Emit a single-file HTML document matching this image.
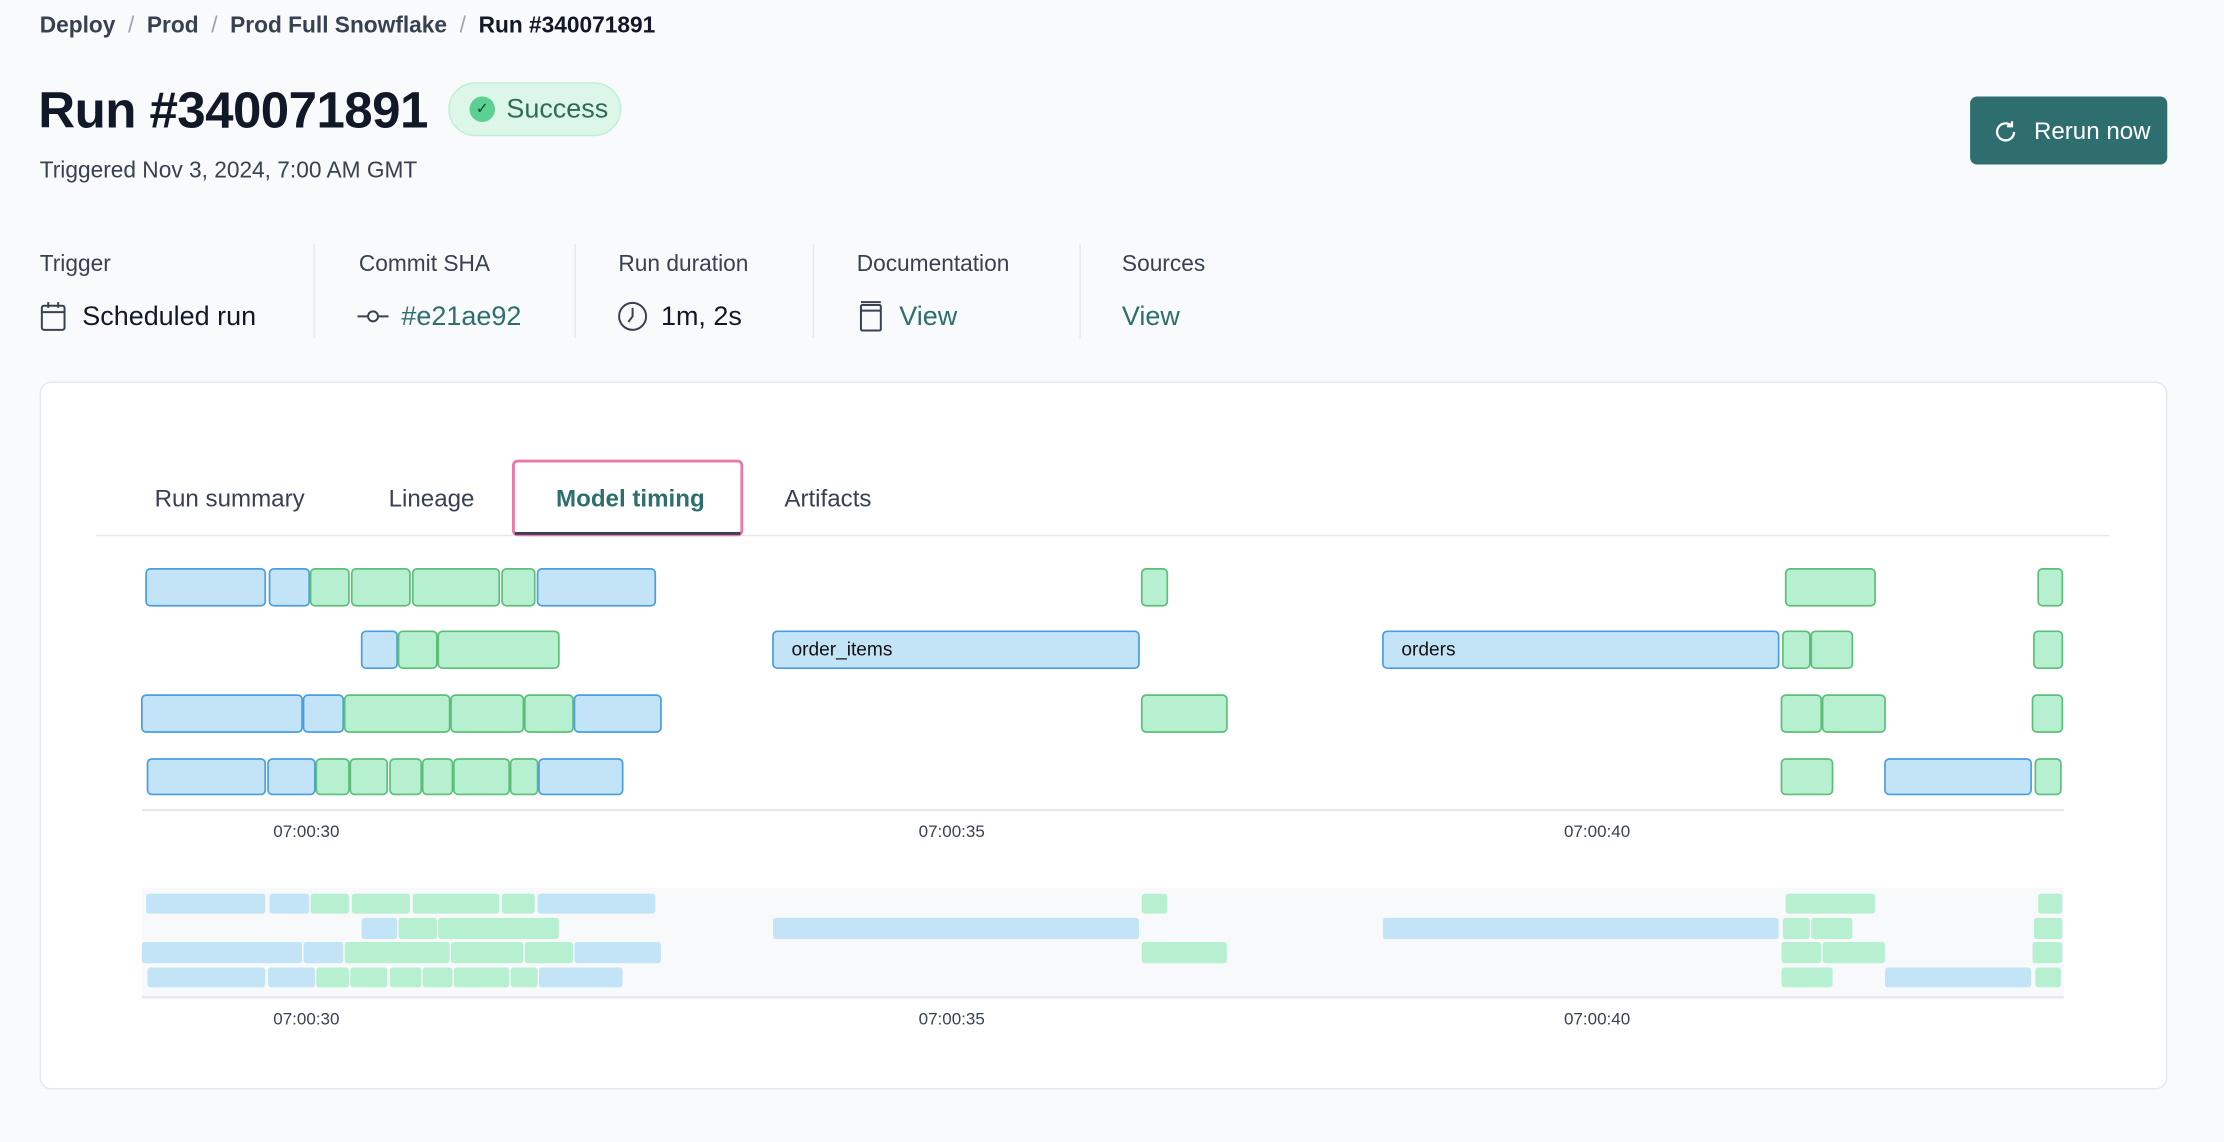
<!DOCTYPE html>
<html><head><meta charset="utf-8"><style>
html,body{margin:0;padding:0;background:#f9fafb;width:2224px;height:1142px;overflow:hidden}
#w{position:absolute;left:0;top:0;width:1568px;height:805px;transform:scale(1.41837,1.41863);transform-origin:0 0;font-family:"Liberation Sans",sans-serif;color:#1f2937}
.a{position:absolute;white-space:nowrap}
.bc{top:10px;font-size:16px;font-weight:bold;color:#374151}
.sep{color:#9ca3af;font-weight:normal}
.lbl{top:178px;font-size:16px;color:#374151}
.val{top:213px;font-size:19px;color:#111827}
.link{color:#2e6e6e}
.vl{position:absolute;top:172px;width:1px;height:66px;background:#e5e7eb}
.tab{top:342px;font-size:17px;color:#374151}
</style></head><body><div id="w">
<div class="a bc" style="left:28px">Deploy <span class="sep">&nbsp;/&nbsp;</span> Prod <span class="sep">&nbsp;/&nbsp;</span> Prod Full Snowflake <span class="sep">&nbsp;/&nbsp;</span> <span style="color:#111827">Run #340071891</span></div>
<div class="a" style="left:27px;top:57px;font-size:36px;font-weight:bold;color:#111827;letter-spacing:-0.4px">Run #340071891</div>
<div class="a" style="left:316px;top:58px;width:122px;height:38px;box-sizing:border-box;border:1px solid #bdf0d2;border-radius:19px;background:#dcf7e8"></div>
<div class="a" style="left:331px;top:68px;width:18px;height:18px;border-radius:9px;background:#5ccf93;color:#064e3b;font-size:11px;text-align:center;line-height:18px">✓</div>
<div class="a" style="left:357px;top:67px;font-size:19px;color:#2f6b55">Success</div>
<div class="a" style="left:28px;top:112px;font-size:16px;color:#374151">Triggered Nov 3, 2024, 7:00 AM GMT</div>
<div class="a" style="left:1389px;top:68px;width:139px;height:48px;border-radius:5px;background:#2e6e6e"></div>
<svg class="a" style="left:1404px;top:83px" width="20" height="20" viewBox="0 0 20 20"><path d="M16 10a6 6 0 1 1-2-4.5" fill="none" stroke="#fff" stroke-width="1.6"/><path d="M14.5 2.5v3.5h-3.5" fill="none" stroke="#fff" stroke-width="1.6"/></svg>
<div class="a" style="left:1434px;top:83px;font-size:17px;color:#fff">Rerun now</div>

<div class="a lbl" style="left:28px">Trigger</div>
<div class="a lbl" style="left:253px">Commit SHA</div>
<div class="a lbl" style="left:436px">Run duration</div>
<div class="a lbl" style="left:604px">Documentation</div>
<div class="a lbl" style="left:791px">Sources</div>
<div class="vl" style="left:221px"></div><div class="vl" style="left:405px"></div><div class="vl" style="left:573px"></div><div class="vl" style="left:761px"></div>
<svg class="a" style="left:28px;top:212px" width="20" height="22"><rect x="1.5" y="3.5" width="16" height="17" rx="1.5" fill="none" stroke="#374151" stroke-width="1.4"/><line x1="1.5" y1="8" x2="17.5" y2="8" stroke="#374151" stroke-width="1.4"/><line x1="6" y1="1" x2="6" y2="5" stroke="#374151" stroke-width="1.4"/><line x1="13" y1="1" x2="13" y2="5" stroke="#374151" stroke-width="1.4"/></svg>
<div class="a val" style="left:58px">Scheduled run</div>
<svg class="a" style="left:252px;top:216px" width="22" height="14"><line x1="0" y1="7" x2="22" y2="7" stroke="#374151" stroke-width="1.4"/><circle cx="11" cy="7" r="3.5" fill="#f9fafb" stroke="#374151" stroke-width="1.4"/></svg>
<div class="a val link" style="left:283px">#e21ae92</div>
<svg class="a" style="left:435px;top:212px" width="22" height="22"><circle cx="11" cy="11" r="9.5" fill="none" stroke="#374151" stroke-width="1.4"/><path d="M11 5v6l-3 4" fill="none" stroke="#374151" stroke-width="1.4"/></svg>
<div class="a val" style="left:466px">1m, 2s</div>
<svg class="a" style="left:606px;top:212px" width="16" height="22"><rect x="1" y="3" width="14" height="18" rx="1" fill="none" stroke="#374151" stroke-width="1.4"/><line x1="1" y1="1" x2="15" y2="1" stroke="#374151" stroke-width="1.4"/><line x1="1" y1="7" x2="15" y2="7" stroke="#374151" stroke-width="1.4"/></svg>
<div class="a val link" style="left:634px">View</div>
<div class="a val link" style="left:791px">View</div>

<div class="a" style="left:28px;top:269px;width:1500px;height:499px;box-sizing:border-box;border:1px solid #e5e7eb;border-radius:8px;background:#fff"></div>
<div class="a" style="left:68px;top:377px;width:1419px;height:1px;background:#e5e7eb"></div>
<div class="a tab" style="left:109px">Run summary</div>
<div class="a tab" style="left:274px">Lineage</div>
<div class="a tab" style="left:553px">Artifacts</div>
<div class="a" style="left:361px;top:324px;width:163px;height:54px;box-sizing:border-box;border:2px solid #e879a8;border-radius:4px"></div>
<div class="a" style="left:363px;top:375px;width:159px;height:2px;background:#374151"></div>
<div class="a tab" style="left:392px;font-weight:bold;color:#2e6e6e">Model timing</div>

<svg class="a" style="left:0;top:0" width="1568" height="805">
<style>.b{fill:#c3e4f7;stroke:#4a9de0;stroke-width:1.2}.g{fill:#b7f0d1;stroke:#5cbf78;stroke-width:1.2}.mb{fill:#c3e4f7}.mg{fill:#b7f0d1}text{font-family:"Liberation Sans",sans-serif}</style>
<g>
<rect class="b" x="103" y="401" width="84" height="26" rx="3"/><rect class="b" x="190" y="401" width="28" height="26" rx="3"/><rect class="g" x="219" y="401" width="27" height="26" rx="3"/><rect class="g" x="248" y="401" width="41" height="26" rx="3"/><rect class="g" x="291" y="401" width="61" height="26" rx="3"/><rect class="g" x="354" y="401" width="23" height="26" rx="3"/><rect class="b" x="379" y="401" width="83" height="26" rx="3"/><rect class="g" x="805" y="401" width="18" height="26" rx="3"/><rect class="g" x="1259" y="401" width="63" height="26" rx="3"/><rect class="g" x="1437" y="401" width="17" height="26" rx="3"/>
<rect class="b" x="255" y="445" width="25" height="26" rx="3"/><rect class="g" x="281" y="445" width="27" height="26" rx="3"/><rect class="g" x="309" y="445" width="85" height="26" rx="3"/><rect class="b" x="545" y="445" width="258" height="26" rx="3"/><rect class="b" x="975" y="445" width="279" height="26" rx="3"/><rect class="g" x="1257" y="445" width="19" height="26" rx="3"/><rect class="g" x="1277" y="445" width="29" height="26" rx="3"/><rect class="g" x="1434" y="445" width="20" height="26" rx="3"/>
<rect class="b" x="100" y="490" width="113" height="26" rx="3"/><rect class="b" x="214" y="490" width="28" height="26" rx="3"/><rect class="g" x="243" y="490" width="74" height="26" rx="3"/><rect class="g" x="318" y="490" width="51" height="26" rx="3"/><rect class="g" x="370" y="490" width="34" height="26" rx="3"/><rect class="b" x="405" y="490" width="61" height="26" rx="3"/><rect class="g" x="805" y="490" width="60" height="26" rx="3"/><rect class="g" x="1256" y="490" width="28" height="26" rx="3"/><rect class="g" x="1285" y="490" width="44" height="26" rx="3"/><rect class="g" x="1433" y="490" width="21" height="26" rx="3"/>
<rect class="b" x="104" y="535" width="83" height="25" rx="3"/><rect class="b" x="189" y="535" width="33" height="25" rx="3"/><rect class="g" x="223" y="535" width="23" height="25" rx="3"/><rect class="g" x="247" y="535" width="26" height="25" rx="3"/><rect class="g" x="275" y="535" width="22" height="25" rx="3"/><rect class="g" x="298" y="535" width="21" height="25" rx="3"/><rect class="g" x="320" y="535" width="39" height="25" rx="3"/><rect class="g" x="360" y="535" width="19" height="25" rx="3"/><rect class="b" x="380" y="535" width="59" height="25" rx="3"/><rect class="g" x="1256" y="535" width="36" height="25" rx="3"/><rect class="b" x="1329" y="535" width="103" height="25" rx="3"/><rect class="g" x="1435" y="535" width="18" height="25" rx="3"/>
</g>
<text x="558" y="462" font-size="13.5" fill="#111">order_items</text>
<text x="988" y="462" font-size="13.5" fill="#111">orders</text>
<line x1="100" y1="571" x2="1455" y2="571" stroke="#e5e7eb" stroke-width="1.5"/>
<g font-size="12" fill="#374151" text-anchor="middle"><text x="216" y="590">07:00:30</text><text x="671" y="590">07:00:35</text><text x="1126" y="590">07:00:40</text></g>
<rect x="100" y="626" width="1355" height="77" fill="#f8f9fa"/>
<g>
<rect class="mb" x="103" y="630" width="84" height="14" rx="2"/><rect class="mb" x="190" y="630" width="28" height="14" rx="2"/><rect class="mg" x="219" y="630" width="27" height="14" rx="2"/><rect class="mg" x="248" y="630" width="41" height="14" rx="2"/><rect class="mg" x="291" y="630" width="61" height="14" rx="2"/><rect class="mg" x="354" y="630" width="23" height="14" rx="2"/><rect class="mb" x="379" y="630" width="83" height="14" rx="2"/><rect class="mg" x="805" y="630" width="18" height="14" rx="2"/><rect class="mg" x="1259" y="630" width="63" height="14" rx="2"/><rect class="mg" x="1437" y="630" width="17" height="14" rx="2"/>
<rect class="mb" x="255" y="647" width="25" height="15" rx="2"/><rect class="mg" x="281" y="647" width="27" height="15" rx="2"/><rect class="mg" x="309" y="647" width="85" height="15" rx="2"/><rect class="mb" x="545" y="647" width="258" height="15" rx="2"/><rect class="mb" x="975" y="647" width="279" height="15" rx="2"/><rect class="mg" x="1257" y="647" width="19" height="15" rx="2"/><rect class="mg" x="1277" y="647" width="29" height="15" rx="2"/><rect class="mg" x="1434" y="647" width="20" height="15" rx="2"/>
<rect class="mb" x="100" y="664" width="113" height="15" rx="2"/><rect class="mb" x="214" y="664" width="28" height="15" rx="2"/><rect class="mg" x="243" y="664" width="74" height="15" rx="2"/><rect class="mg" x="318" y="664" width="51" height="15" rx="2"/><rect class="mg" x="370" y="664" width="34" height="15" rx="2"/><rect class="mb" x="405" y="664" width="61" height="15" rx="2"/><rect class="mg" x="805" y="664" width="60" height="15" rx="2"/><rect class="mg" x="1256" y="664" width="28" height="15" rx="2"/><rect class="mg" x="1285" y="664" width="44" height="15" rx="2"/><rect class="mg" x="1433" y="664" width="21" height="15" rx="2"/>
<rect class="mb" x="104" y="682" width="83" height="14" rx="2"/><rect class="mb" x="189" y="682" width="33" height="14" rx="2"/><rect class="mg" x="223" y="682" width="23" height="14" rx="2"/><rect class="mg" x="247" y="682" width="26" height="14" rx="2"/><rect class="mg" x="275" y="682" width="22" height="14" rx="2"/><rect class="mg" x="298" y="682" width="21" height="14" rx="2"/><rect class="mg" x="320" y="682" width="39" height="14" rx="2"/><rect class="mg" x="360" y="682" width="19" height="14" rx="2"/><rect class="mb" x="380" y="682" width="59" height="14" rx="2"/><rect class="mg" x="1256" y="682" width="36" height="14" rx="2"/><rect class="mb" x="1329" y="682" width="103" height="14" rx="2"/><rect class="mg" x="1435" y="682" width="18" height="14" rx="2"/>
</g>
<line x1="100" y1="703" x2="1455" y2="703" stroke="#e5e7eb" stroke-width="1.5"/>
<g font-size="12" fill="#374151" text-anchor="middle"><text x="216" y="722">07:00:30</text><text x="671" y="722">07:00:35</text><text x="1126" y="722">07:00:40</text></g>
</svg>
</div></body></html>
